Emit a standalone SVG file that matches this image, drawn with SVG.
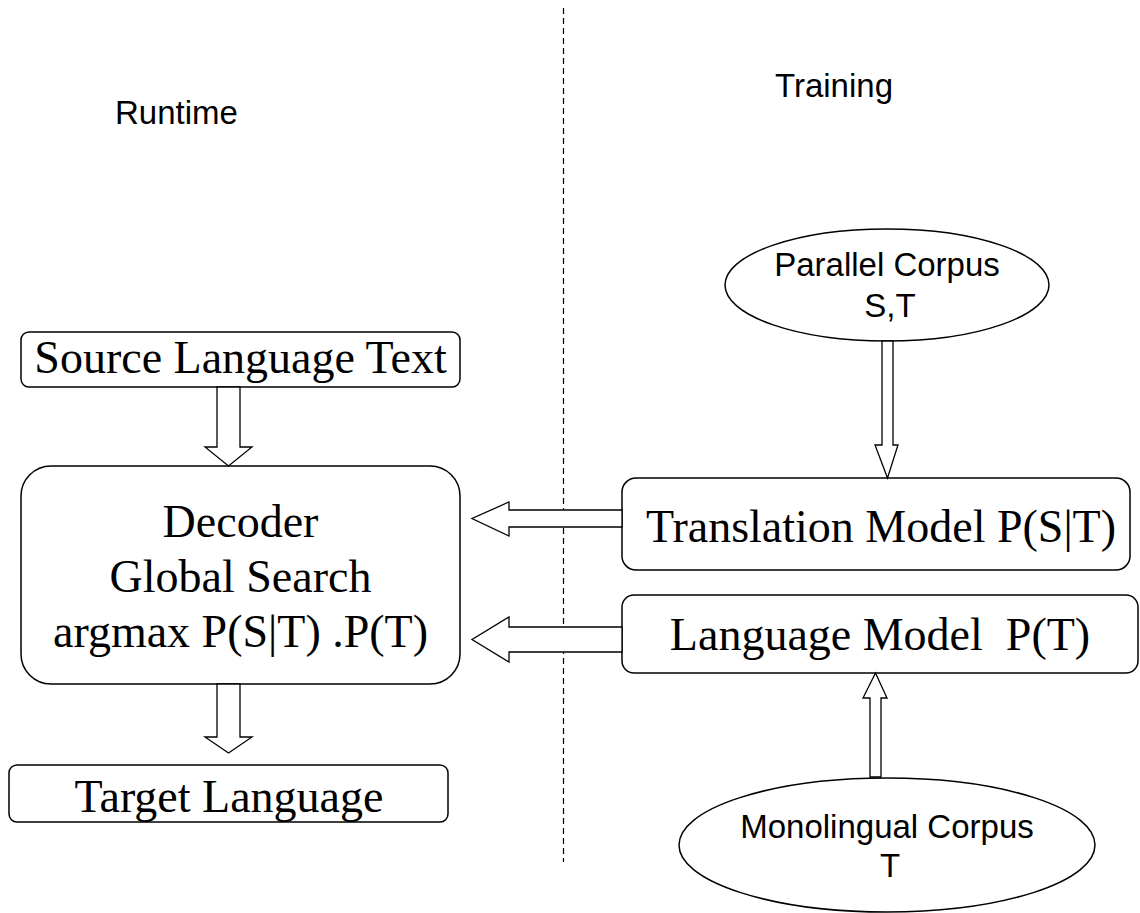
<svg xmlns="http://www.w3.org/2000/svg" width="1140" height="913" viewBox="0 0 1140 913">
<style>
.box{fill:#fff;stroke:#000;stroke-width:1.5}
.arr{fill:#fff;stroke:#000;stroke-width:1.3;stroke-linejoin:miter}
.serif{font-family:"Liberation Serif","Times New Roman",serif;font-size:46px;fill:#000;text-anchor:middle}
.sans{font-family:"Liberation Sans",Arial,sans-serif;font-size:33px;fill:#000}
.sansm{font-family:"Liberation Sans",Arial,sans-serif;font-size:33px;fill:#000;text-anchor:middle}
</style>
<rect width="1140" height="913" fill="#fff"/>
<g id="divider">
<line x1="563.5" y1="8" x2="563.5" y2="862" stroke="#000" stroke-width="1.2" stroke-dasharray="6 4"/>
</g>
<g id="label-runtime"><text class="sans" x="115" y="124">Runtime</text></g>
<g id="label-training"><text class="sans" x="775" y="97">Training</text></g>

<g id="source">
<rect class="box" x="21" y="332" width="439" height="55" rx="8"/>
<text class="serif" x="240.5" y="373">Source Language Text</text>
</g>
<g id="decoder">
<rect class="box" x="21" y="466" width="439" height="218" rx="30"/>
<text class="serif" x="240.5" y="537">Decoder</text>
<text class="serif" x="240.5" y="592">Global Search</text>
<text class="serif" x="240.5" y="647">argmax P(S|T) .P(T)</text>
</g>
<g id="target">
<rect class="box" x="9" y="765" width="439" height="57" rx="8"/>
<text class="serif" x="229" y="812">Target Language</text>
</g>
<g id="parallel">
<ellipse class="box" cx="887" cy="285" rx="162" ry="56"/>
<text class="sansm" x="887" y="276">Parallel Corpus</text>
<text class="sansm" x="890" y="317">S,T</text>
</g>
<g id="translation">
<rect class="box" x="622" y="478" width="508" height="92" rx="14"/>
<text class="serif" x="881" y="542">Translation Model P(S|T)</text>
</g>
<g id="language">
<rect class="box" x="622" y="595" width="516" height="78" rx="12"/>
<text class="serif" x="880" y="650" xml:space="preserve">Language Model  P(T)</text>
</g>
<g id="monolingual">
<ellipse class="box" cx="887" cy="845" rx="208" ry="67"/>
<text class="sansm" x="887" y="838">Monolingual Corpus</text>
<text class="sansm" x="890" y="877">T</text>
</g>

<g id="connectors">
<polygon class="arr" points="217,387 240,387 240,447 252,447 228.5,466 205,447 217,447"/>
<polygon class="arr" points="217,684 240,684 240,737 252,737 228.5,753 205,737 217,737"/>
<polygon class="arr" points="882,341 893,341 893,445 898,445 887.5,478 875,445 882,445"/>
<polygon class="arr" points="870,777 881,777 881,698 887,698 875.5,673 863,698 870,698"/>
<polygon class="arr" points="622,510 509,510 509,502 472,518.5 509,536 509,527 622,527"/>
<polygon class="arr" points="622,627 509,627 509,617 472,639.5 509,662 509,652 622,652"/>
</g>
</svg>
